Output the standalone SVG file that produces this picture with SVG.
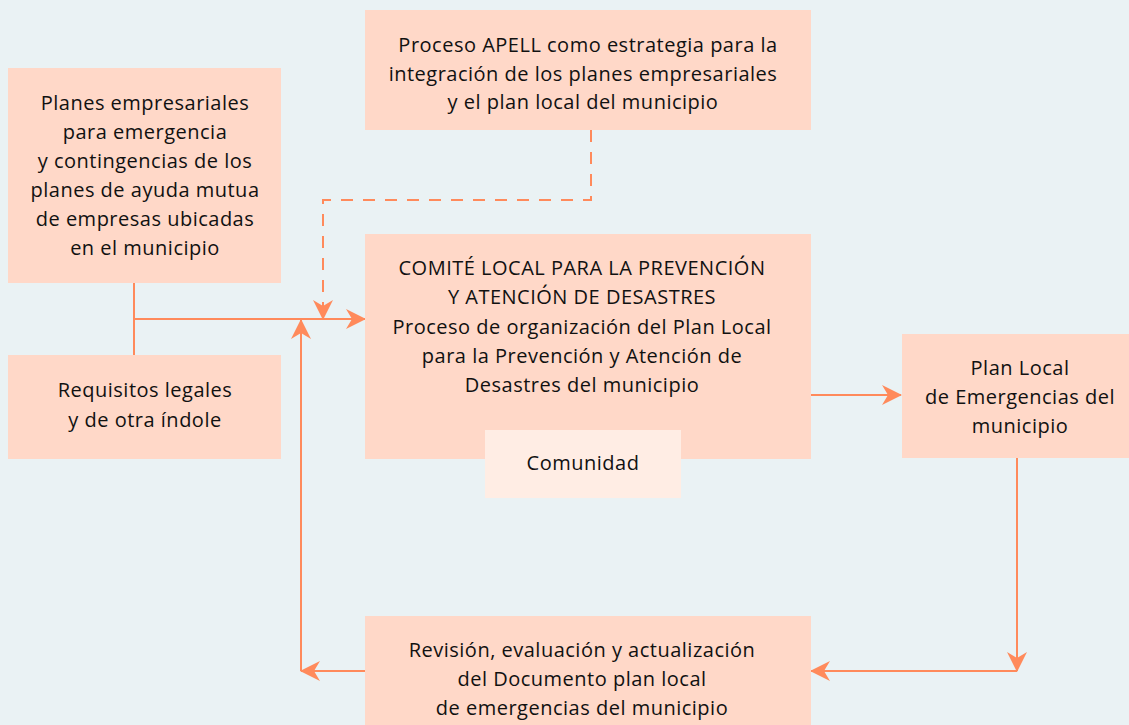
<svg xmlns="http://www.w3.org/2000/svg" width="1129" height="725" viewBox="0 0 1129 725">
<defs>
<style>
.box{fill:#FFD8C8;}
.inner{fill:#FFEDE4;}
.t{font-family:"Open Sans","Noto Sans",sans-serif;font-size:20px;letter-spacing:0.5px;fill:#111111;text-anchor:middle;}
.ln{stroke:#FF8A5B;stroke-width:2;fill:none;}
.dash{stroke:#FF8A5B;stroke-width:2;fill:none;stroke-dasharray:12 10;}
</style>
<marker id="ah" markerUnits="userSpaceOnUse" markerWidth="20" markerHeight="20" refX="19" refY="10" orient="auto" viewBox="0 0 20 20">
<path d="M0,0 L20,10 L0,20 L6,10 z" fill="#FF8A5B"/>
</marker>
</defs>
<rect width="1129" height="725" fill="#EAF2F4"/>
<g id="connectors">
<path class="ln" d="M134,283 V355"/>
<path class="ln" d="M134,319 H365" marker-end="url(#ah)"/>
<path class="dash" d="M591,130 V200 H323 V319" marker-end="url(#ah)"/>
<path class="ln" d="M301,671 V320" marker-end="url(#ah)"/>
<path class="ln" d="M365,671 H301" marker-end="url(#ah)"/>
<path class="ln" d="M811,395 H901" marker-end="url(#ah)"/>
<path class="ln" d="M1017,458 V671" marker-end="url(#ah)"/>
<path class="ln" d="M1017,671 H811" marker-end="url(#ah)"/>
</g>
<g id="planes">
<rect class="box" x="8" y="68" width="273" height="215"/>
<text class="t" x="145" y="110">Planes empresariales</text>
<text class="t" x="145" y="139">para emergencia</text>
<text class="t" x="145" y="168">y contingencias de los</text>
<text class="t" x="145" y="197">planes de ayuda mutua</text>
<text class="t" x="145" y="226">de empresas ubicadas</text>
<text class="t" x="145" y="255">en el municipio</text>
</g>
<g id="requisitos">
<rect class="box" x="8" y="355" width="273" height="104"/>
<text class="t" x="145" y="397">Requisitos legales</text>
<text class="t" x="145" y="427">y de otra índole</text>
</g>
<g id="apell">
<rect class="box" x="365" y="10" width="446" height="120"/>
<text class="t" x="588" y="52">Proceso APELL como estrategia para la</text>
<text class="t" x="583" y="81">integración de los planes empresariales</text>
<text class="t" x="583" y="109">y el plan local del municipio</text>
</g>
<g id="comite">
<rect class="box" x="365" y="234" width="446" height="225"/>
<text class="t" x="582" y="275">COMITÉ LOCAL PARA LA PREVENCIÓN</text>
<text class="t" x="582" y="304">Y ATENCIÓN DE DESASTRES</text>
<text class="t" x="582" y="334">Proceso de organización del Plan Local</text>
<text class="t" x="582" y="363">para la Prevención y Atención de</text>
<text class="t" x="582" y="392">Desastres del municipio</text>
</g>
<g id="comunidad">
<rect class="inner" x="485" y="430" width="196" height="68"/>
<text class="t" x="583" y="470">Comunidad</text>
</g>
<g id="planlocal">
<rect class="box" x="902" y="334" width="227" height="124"/>
<text class="t" x="1020" y="375">Plan Local</text>
<text class="t" x="1020" y="404">de Emergencias del</text>
<text class="t" x="1020" y="433">municipio</text>
</g>
<g id="revision">
<rect class="box" x="365" y="616" width="446" height="109"/>
<text class="t" x="582" y="657">Revisión, evaluación y actualización</text>
<text class="t" x="582" y="686">del Documento plan local</text>
<text class="t" x="582" y="715">de emergencias del municipio</text>
</g>
</svg>
